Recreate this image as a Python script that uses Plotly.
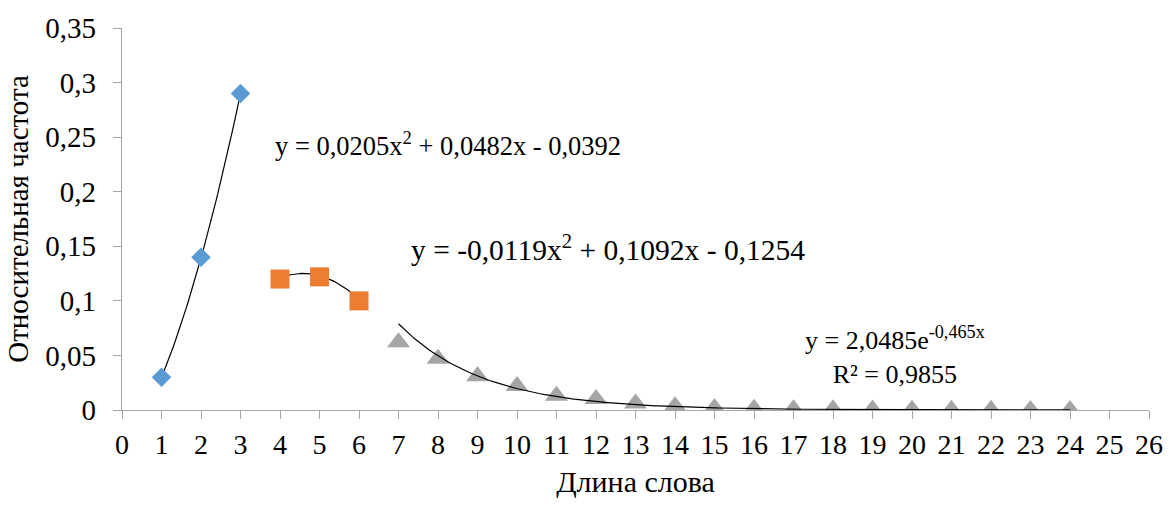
import numpy as np
import plotly.graph_objects as go

# Data
x_blue = [1, 2, 3]
y_blue = [0.03, 0.14, 0.29]
x_orange = [4, 5, 6]
y_orange = [0.12, 0.122, 0.10]
x_grey = [7, 8, 9, 10, 11, 12, 13, 14, 15, 16, 17, 18, 19, 20, 21, 22, 23, 24]
y_grey = [0.062, 0.047, 0.031, 0.022, 0.013, 0.010, 0.006, 0.0035, 0.0019, 0.0011,
          0.0008, 0.0006, 0.0004, 0.0003, 0.0002, 0.0002, 0.0001, 0.0001]

# Trendline coefficients (as printed on chart)
poly_blue = [0.0205, 0.0482, -0.0392]
poly_orange = [-0.0119, 0.1092, -0.1254]
exp_grey = [2.0485, -0.465]

x_ticks = list(range(0, 27))
y_ticks = [0, 0.05, 0.1, 0.15, 0.2, 0.25, 0.3, 0.35]
y_ticktext = ["0", "0,05", "0,1", "0,15", "0,2", "0,25", "0,3", "0,35"]

FONT = "Liberation Serif, Times New Roman, serif"

fig = go.Figure()

# trend lines
xb = np.linspace(x_blue[0], x_blue[-1], 60)
fig.add_trace(go.Scatter(x=xb, y=np.polyval(poly_blue, xb), mode="lines",
                         line=dict(color="black", width=1.2), hoverinfo="skip"))
xo = np.linspace(x_orange[0], x_orange[-1], 60)
fig.add_trace(go.Scatter(x=xo, y=np.polyval(poly_orange, xo), mode="lines",
                         line=dict(color="black", width=1.2), hoverinfo="skip"))

# markers
fig.add_trace(go.Scatter(x=x_blue, y=y_blue, mode="markers",
                         marker=dict(symbol="diamond", size=15, color="#5B9BD5")))
fig.add_trace(go.Scatter(x=x_orange, y=y_orange, mode="markers",
                         marker=dict(symbol="square", size=19, color="#ED7D31")))
fig.add_trace(go.Scatter(x=x_grey, y=y_grey, mode="markers",
                         marker=dict(symbol="triangle-up", size=20, color="#A5A5A5")))

xg = np.linspace(x_grey[0], x_grey[-1], 200)
fig.add_trace(go.Scatter(x=xg, y=exp_grey[0] * np.exp(exp_grey[1] * xg), mode="lines",
                         line=dict(color="black", width=1.2), hoverinfo="skip"))

fig.add_annotation(x=3.81, y=0.2435, xref="x", yref="y", xanchor="left", yanchor="middle",
                   text="y = 0,0205x<sup>2</sup> + 0,0482x - 0,0392", showarrow=False,
                   font=dict(family=FONT, size=26.5, color="black"))
fig.add_annotation(x=7.27, y=0.1480, xref="x", yref="y", xanchor="left", yanchor="middle",
                   text="y = -0,0119x<sup>2</sup> + 0,1092x - 0,1254", showarrow=False,
                   font=dict(family=FONT, size=29.5, color="black"))
fig.add_annotation(x=19.57, y=0.0495, xref="x", yref="y", xanchor="center", yanchor="middle",
                   text="y = 2,0485e<sup>-0,465x</sup><br>R² = 0,9855", showarrow=False,
                   font=dict(family=FONT, size=26, color="black"))

axis_common = dict(showgrid=False, zeroline=False, showline=True, linecolor="#A6A6A6",
                   linewidth=1.3, ticks="outside", tickcolor="#A6A6A6", ticklen=8)

fig.update_layout(
    width=1175, height=507,
    margin=dict(l=122, r=23, t=23, b=97),
    paper_bgcolor="white", plot_bgcolor="white",
    showlegend=False,
    xaxis=dict(range=[0, 26], tickvals=x_ticks, ticktext=[str(v) for v in x_ticks],
               tickfont=dict(family=FONT, size=28, color="black"),
               title=dict(text="Длина слова", font=dict(family=FONT, size=30, color="black"),
                          standoff=12),
               ticklabelstandoff=1, **axis_common),
    yaxis=dict(range=[0, 0.35], tickvals=y_ticks, ticktext=y_ticktext,
               tickfont=dict(family=FONT, size=29, color="black"),
               title=dict(text="Относительная частота", font=dict(family=FONT, size=29, color="black"),
                          standoff=8),
               ticklabelstandoff=11, **axis_common),
)

fig.write_html("out.html")
